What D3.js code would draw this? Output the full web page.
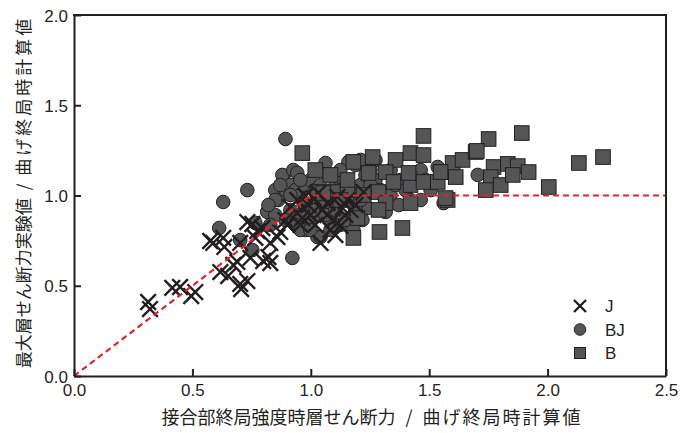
<!DOCTYPE html>
<html>
<head>
<meta charset="utf-8">
<script src="https://cdn.jsdelivr.net/npm/d3@7"></script>
<style>
  html, body { margin: 0; padding: 0; background: #fff; }
  svg { display: block; }
  .tick text { font-family: "Liberation Sans", Arial, sans-serif; font-size: 17px; fill: #231f20; }
  .title { font-family: "Noto Sans CJK JP", sans-serif; font-size: 17px; fill: #231f20; }
</style>
</head>
<body>
<div id="chart"></div>
<script>
// series: [x, y]
const seriesJ = [
  [0.313,0.410],[0.321,0.371],[0.415,0.488],[0.448,0.493],[0.495,0.443],[0.512,0.465],
  [0.575,0.748],[0.588,0.737],[0.635,0.715],[0.618,0.576],[0.651,0.554],[0.706,0.482],
  [0.702,0.510],[0.732,0.526],[0.673,0.615],[0.690,0.632],[0.702,0.737],[0.732,0.853],
  [0.753,0.842],[0.774,0.803],[0.799,0.637],[0.821,0.659],[0.829,0.626],[0.829,0.737],
  [0.766,0.765],[0.795,0.820],[0.745,0.654],[0.871,0.798],[0.901,0.837],[0.943,0.903],
  [0.964,0.875],[0.859,0.770],[0.914,0.936],[0.943,0.975],[0.990,0.947],[1.011,0.986],
  [1.032,1.014],[1.041,0.737],[1.070,0.892],[1.096,0.864],[1.070,0.958],[1.112,0.992],
  [1.155,0.975],[1.168,0.920],[1.125,0.831],[1.146,0.892],[1.189,0.947],[1.223,1.019],
  [1.049,0.920],[0.998,0.892],[0.956,0.837],[0.893,0.864],[1.083,0.809],[1.134,0.931],
  [1.019,0.837],[0.977,0.997],[1.104,0.781],[0.630,0.765]
];
const seriesBJ = [
  [0.893,1.313],[0.732,1.030],[0.630,0.964],[0.884,1.102],[0.613,0.820],[0.922,0.654],
  [0.753,0.698],[0.702,0.753],[0.816,0.909],[0.766,0.848],[0.880,1.114],[0.871,1.003],
  [0.926,1.141],[0.943,1.125],[0.969,0.958],[1.028,0.770],[1.180,0.809],[1.062,1.180],
  [1.159,1.186],[1.041,0.770],[1.197,0.881],[1.561,0.958],[1.536,1.158],[1.705,1.114],
  [1.218,0.864],
  [0.850,1.030],[0.863,0.975],[0.893,1.030],[0.914,1.058],[0.935,1.030],[0.956,1.003],
  [0.977,1.058],[0.998,1.086],[1.019,1.030],[1.041,0.975],[1.062,0.947],[1.083,1.003],
  [1.104,1.058],[1.125,1.086],[1.146,1.030],[1.168,0.975],[1.189,1.003],[1.210,1.058],
  [1.231,1.114],[1.252,1.141],[1.273,1.086],[1.294,1.030],[1.316,0.975],[1.337,1.003],
  [1.358,1.058],[1.379,1.086],[1.400,1.030],[1.421,0.975],[0.956,0.892],[0.998,0.864],
  [1.041,0.892],[1.083,0.864],[1.125,0.837],[0.914,0.920],[0.893,0.864],[0.850,0.892],
  [0.829,0.837],[0.935,0.837],[0.977,0.809],[1.125,1.141],[1.189,1.169],[1.210,1.197],
  [1.273,1.197],[1.337,1.141],[1.464,1.141],[1.421,1.114],[1.485,1.086],[1.506,1.030],
  [1.464,0.975],[1.371,0.947],[1.286,0.920],[1.244,0.931],[1.316,0.909],
  [0.977,0.947],[1.019,0.920],[1.062,0.892],[1.104,0.920],[1.146,0.864],[1.189,0.920],
  [0.956,0.809],[0.998,0.809],[1.083,0.809],[0.914,1.003],[0.871,1.058],[0.956,1.086],
  [1.041,1.058],[1.125,1.030],[1.210,0.975],[1.252,1.058],[0.850,0.975],[0.821,0.947]
];
const seriesB = [
  [0.964,1.235],[1.019,1.141],[1.028,1.019],[1.096,1.019],[1.180,1.186],[1.261,1.213],
  [1.358,1.197],[1.421,1.235],[1.476,1.224],[1.476,1.330],[1.244,1.125],[1.316,1.130],
  [1.349,1.075],[1.421,1.058],[1.413,1.125],[1.476,1.075],[1.536,1.075],[1.557,1.130],
  [1.599,1.180],[1.612,1.102],[1.641,1.197],[1.696,1.241],[1.286,1.019],[1.155,1.030],
  [1.421,0.958],[1.316,0.958],[1.286,0.920],[1.578,0.975],[1.290,0.798],[1.387,0.820],
  [1.180,0.765],[1.197,0.875],[1.891,1.346],[1.751,1.313],[1.701,1.247],[1.772,1.158],
  [1.832,1.175],[1.874,1.163],[1.920,1.130],[1.760,1.102],[1.802,1.058],[1.739,1.030],
  [1.853,1.114],[2.132,1.180],[2.234,1.213],[2.005,1.047],[1.569,0.986],[1.223,1.003],
  [1.053,1.014],[1.155,1.086],[1.548,1.130],[1.125,0.975],[1.083,1.114]
];
// design line: y = x up to 1.0, then flat
const refLine = [[0,0],[1,1],[2.5,1]];

const xTicks = [0,0.5,1.0,1.5,2.0,2.5];
const yTicks = [0,0.5,1.0,1.5,2.0];
const legendNames = ["J","BJ","B"];
const xTitle = ["接合部終局強度時層せん断力", "曲げ終局時計算値"];
const yTitle = ["最大層せん断力実験値", "曲げ終局時計算値"];

const width = 692, height = 433;
const margin = {top:15, right:26, bottom:57, left:74};
const ink = "#231f20", fillGrey = "#555557";

const svg = d3.select("#chart").append("svg")
  .attr("width", width).attr("height", height);

const x = d3.scaleLinear().domain([0,2.5]).range([margin.left, width-margin.right]);
const y = d3.scaleLinear().domain([0,2.0]).range([height-margin.bottom, margin.top]);

// points
const plot = svg.append("g");
plot.append("g").selectAll("circle")
  .data(seriesBJ).join("circle")
    .attr("cx", d => x(d[0])).attr("cy", d => y(d[1])).attr("r", 6.8)
    .attr("fill", fillGrey).attr("stroke", ink).attr("stroke-width", 1);

plot.append("g").selectAll("rect")
  .data(seriesB).join("rect")
    .attr("x", d => x(d[0])-7.3).attr("y", d => y(d[1])-7.3)
    .attr("width", 14.6).attr("height", 14.6)
    .attr("fill", fillGrey).attr("stroke", ink).attr("stroke-width", 1);

const cross = s => `M${-s},${-s}L${s},${s}M${-s},${s}L${s},${-s}`;
plot.append("g").selectAll("path")
  .data(seriesJ).join("path")
    .attr("transform", d => `translate(${x(d[0])},${y(d[1])})`)
    .attr("d", cross(7.8))
    .attr("fill", "none").attr("stroke", ink).attr("stroke-width", 2.4);

svg.append("path")
  .datum(refLine)
  .attr("d", d3.line().x(d => x(d[0])).y(d => y(d[1])))
  .attr("fill", "none").attr("stroke", "#e3232b")
  .attr("stroke-width", 2.2).attr("stroke-dasharray", "6,4");

// axes, ticks pointing in
const fmt = d3.format(".1f");
const gx = svg.append("g")
  .attr("transform", `translate(0,${y(0)})`)
  .call(d3.axisBottom(x).tickValues(xTicks).tickFormat(fmt).tickSizeInner(-7).tickSizeOuter(0).tickPadding(8));
const gy = svg.append("g")
  .attr("transform", `translate(${x(0)},0)`)
  .call(d3.axisLeft(y).tickValues(yTicks).tickFormat(fmt).tickSizeInner(-7).tickSizeOuter(0).tickPadding(6));
[gx, gy].forEach(g => {
  g.select(".domain").attr("stroke", ink).attr("stroke-width", 2);
  g.selectAll(".tick line").attr("stroke", ink).attr("stroke-width", 2);
});
gy.selectAll(".tick text").attr("dy", "0.36em");

// top and right frame
svg.append("line")
  .attr("x1", x(0)-1).attr("x2", x(2.5)+1).attr("y1", y(2)).attr("y2", y(2))
  .attr("stroke", ink).attr("stroke-width", 2);
svg.append("line")
  .attr("x1", x(2.5)).attr("x2", x(2.5)).attr("y1", y(2)).attr("y2", y(0))
  .attr("stroke", ink).attr("stroke-width", 2);

// axis titles
const xt = svg.append("text").attr("class", "title")
  .attr("x", 372).attr("y", 424).attr("text-anchor", "middle")
  .style("font-size", "18px");
xt.append("tspan").text(xTitle[0]);
xt.append("tspan").attr("dx", 10).text("/");
xt.append("tspan").attr("dx", 10).attr("letter-spacing", "2px").text(xTitle[1]);

const yt = svg.append("text").attr("class", "title")
  .attr("transform", "translate(30,192) rotate(-90)")
  .attr("text-anchor", "middle");
yt.append("tspan").text(yTitle[0]);
yt.append("tspan").attr("dx", 8).text("/");
yt.append("tspan").attr("dx", 8).attr("letter-spacing", "3px").text(yTitle[1]);

// legend
const lg = svg.append("g").attr("transform", "translate(580,306)");
const row = 23.5;
lg.append("path").attr("d", cross(6)).attr("fill", "none")
  .attr("stroke", ink).attr("stroke-width", 2.4);
lg.append("circle").attr("cy", row).attr("r", 5.8)
  .attr("fill", fillGrey).attr("stroke", ink).attr("stroke-width", 1);
lg.append("rect").attr("x", -5.5).attr("y", 2*row-5.5).attr("width", 11).attr("height", 11)
  .attr("fill", fillGrey).attr("stroke", ink).attr("stroke-width", 1);
lg.selectAll("text.lab")
  .data(legendNames).join("text")
    .attr("class", "lab")
    .attr("x", 25).attr("y", (d,i) => i*row).attr("dy", "0.36em")
    .attr("font-family", "Liberation Sans, Arial, sans-serif")
    .attr("font-size", 17).attr("fill", ink)
    .text(d => d);
</script>
</body>
</html>
